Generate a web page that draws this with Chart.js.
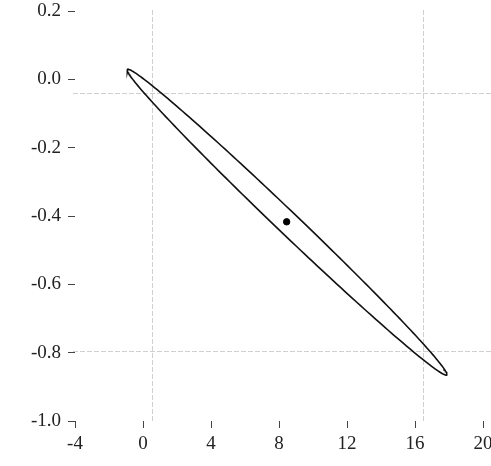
<!DOCTYPE html>
<html>
<head>
<meta charset="utf-8">
<script src="https://cdn.jsdelivr.net/npm/chart.js@4/dist/chart.umd.min.js"></script>
<style>
  html, body { margin: 0; padding: 0; background: #fff; }
  #wrap { width: 491px; height: 466px; overflow: hidden; position: relative; }
  #chart { position: absolute; left: 0; top: 0; }
</style>
</head>
<body>
<div id="wrap"><canvas id="chart" width="530" height="466"></canvas></div>
<script>
// Datos
const xTicks = [-4, 0, 4, 8, 12, 16, 20];
const yTicks = [-1.0, -0.8, -0.6, -0.4, -0.2, 0.0, 0.2];

// Estimacion puntual (centro de la elipse)
const estimate = [8.45, -0.417];

// Elipse de confianza: centro + semiejes (en unidades de datos)
const ellipseCenter = [8.47, -0.418];
const ellipseMajor = [9.395, -0.447];
const ellipseMinor = [0.4475, 0.0233];

// Lineas de referencia punteadas
const refX = [0.53, 16.47];
const refY = [-0.040, -0.795];

// Contorno de la elipse a partir de sus parametros
function ellipseOutline(n) {
  const pts = [];
  for (let i = 0; i <= n; i++) {
    const t = (i / n) * 2 * Math.PI;
    pts.push({
      x: ellipseCenter[0] + Math.cos(t) * ellipseMajor[0] + Math.sin(t) * ellipseMinor[0],
      y: ellipseCenter[1] + Math.cos(t) * ellipseMajor[1] + Math.sin(t) * ellipseMinor[1],
    });
  }
  return pts;
}

// Plugin para las lineas de referencia
const refLines = {
  id: "refLines",
  beforeDatasetsDraw(chart) {
    const { ctx, chartArea, scales } = chart;
    ctx.save();
    ctx.strokeStyle = "#cfcfcf";
    ctx.lineWidth = 1;
    ctx.setLineDash([5, 2]);
    refX.forEach((v) => {
      const px = Math.round(scales.x.getPixelForValue(v)) + 0.5;
      ctx.beginPath();
      ctx.moveTo(px, chartArea.top - 1);
      ctx.lineTo(px, chartArea.bottom);
      ctx.stroke();
    });
    refY.forEach((v) => {
      const py = Math.round(scales.y.getPixelForValue(v)) + 0.5;
      ctx.beginPath();
      ctx.moveTo(chartArea.left - 2, py);
      ctx.lineTo(chart.width, py);
      ctx.stroke();
    });
    ctx.restore();
  },
};

const font = { family: "'Liberation Serif', 'DejaVu Serif', serif", size: 19 };

new Chart(document.getElementById("chart"), {
  type: "scatter",
  data: {
    datasets: [
      {
        data: ellipseOutline(240),
        showLine: true,
        borderColor: "#111",
        borderWidth: 1.6,
        pointRadius: 0,
        tension: 0,
      },
      {
        data: [{ x: estimate[0], y: estimate[1] }],
        backgroundColor: "#000",
        borderColor: "#000",
        pointRadius: 3.2,
      },
    ],
  },
  options: {
    responsive: false,
    animation: false,
    layout: { padding: { top: 11, right: 47, left: 0, bottom: 0 } },
    plugins: { legend: { display: false }, tooltip: { enabled: false } },
    scales: {
      x: {
        type: "linear",
        min: -4,
        max: 20,
        afterBuildTicks: (s) => { s.ticks = xTicks.map((v) => ({ value: v })); },
        afterFit: (s) => { s.height = 45; s.paddingLeft = 0; s.paddingRight = 0; },
        border: { display: false },
        grid: { drawOnChartArea: false, drawTicks: true, tickLength: 7, color: "#444", tickWidth: 1 },
        ticks: { color: "#222", font, padding: 5, maxRotation: 0, autoSkip: false,
                 callback: (v) => String(v) },
      },
      y: {
        type: "linear",
        min: -1.0,
        max: 0.2,
        afterBuildTicks: (s) => { s.ticks = yTicks.map((v) => ({ value: v })); },
        afterFit: (s) => { s.width = 75; s.paddingTop = 0; s.paddingBottom = 0; },
        border: { display: false },
        grid: { drawOnChartArea: false, drawTicks: true, tickLength: 7, color: "#444", tickWidth: 1 },
        ticks: { color: "#222", font, padding: 7, autoSkip: false,
                 callback: (v) => (Math.abs(v) < 1e-9 ? "0.0" : Number(v).toFixed(1)) },
      },
    },
  },
  plugins: [refLines],
});
</script>
</body>
</html>
